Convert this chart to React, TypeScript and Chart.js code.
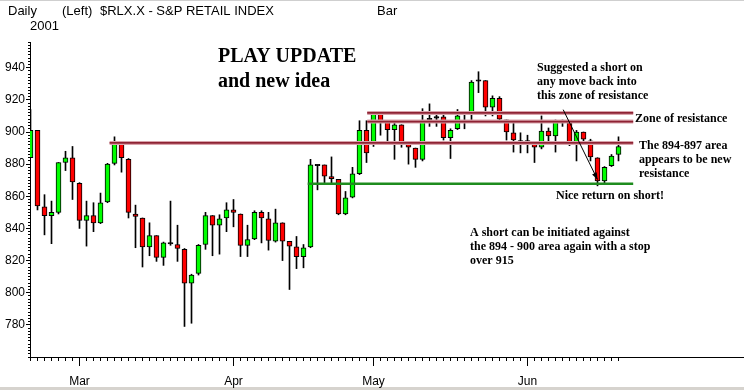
import React, { useEffect, useRef } from "react";
import { Chart, registerables } from "chart.js";

Chart.register(...registerables);

// ---- data: daily OHLC of $RLX.X, 20 Feb 2001 .. 20 Jun 2001 ----
const opens = [
  884, 901, 853.5, 848, 850, 881, 884, 868, 845, 848,
  843.5, 856.5, 880.5, 893, 883, 849, 846.5, 828.5, 835.5, 822,
  831, 830, 827, 806, 812, 830, 848, 842, 846.5, 851.5,
  849, 829.5, 833.5, 850, 846, 832, 843.5, 832, 828.5, 822.5,
  828.5, 879.5, 879.5, 872.3, 870.5, 849, 859.5, 874, 901, 893,
  911, 906, 901.5, 904.5, 893.5, 890, 883, 908.2, 909.2, 909.5,
  896.5, 902, 912, 912.5, 932.2, 932, 915.5, 921, 907.5, 899.5,
  894.2, 894.2, 893.5, 890.5, 900.5, 897.5, 906.3, 905.7, 892.5, 900,
  894.5, 884, 869.5, 879, 886,
];
const highs = [
  914, 901, 861, 857, 881, 888, 891, 868.5, 857, 856,
  862, 880.5, 897, 893.5, 883.5, 854.5, 846.5, 843.5, 835.5, 831.5,
  857, 842, 827.5, 811.5, 830, 850, 848, 848.5, 856, 858,
  849, 842, 851, 851, 850, 852, 843.5, 832, 835, 830,
  883, 879.6, 879.5, 884.5, 870.5, 863, 878, 907, 907, 912,
  912, 906, 906.5, 904.5, 893.5, 890, 914.5, 917.5, 912.5, 911,
  902, 914, 912, 932, 937.5, 932, 922.5, 922, 907.5, 906,
  899.5, 898, 894, 910, 902.5, 907.5, 907.5, 905.7, 901, 900,
  895.5, 884, 878.5, 886, 897,
];
const lows = [
  884, 851.5, 836, 830.5, 849, 876, 858, 840, 829, 838,
  843, 856, 879.5, 875, 846.5, 828, 816, 823, 819.5, 817,
  829.5, 819.5, 779, 781, 811, 827, 823, 824, 838, 841,
  822.5, 822.5, 833, 831, 826.5, 831.5, 820, 802, 815, 815.5,
  828, 864, 868.5, 868, 848.5, 848.5, 859, 873.5, 881, 891,
  898, 893, 883, 890.5, 880, 878, 882, 903.5, 903.5, 895,
  883.5, 901.5, 902, 907, 924.5, 910, 910, 907, 895, 887.5,
  887, 887, 881, 889.5, 893, 887.5, 903.5, 891.5, 882, 894,
  882, 866.5, 868.5, 878.5, 882,
];
const closes = [
  901, 854, 848, 850, 881, 884, 869, 845, 848, 843.5,
  856, 880, 893, 884, 850, 847.5, 828.5, 835.5, 822, 831,
  830.3, 827.5, 806, 811, 829.5, 848, 842, 846, 851.5, 850,
  829.5, 833, 850, 846.5, 832.5, 843.5, 832, 829, 822.5, 828,
  879.5, 879, 872.5, 871, 849, 859, 874, 901, 887, 911,
  906.5, 901.5, 904.5, 893, 890.5, 883, 906.5, 907.6, 908.6, 896.5,
  901, 910, 911.2, 931, 931.6, 915.5, 921, 908, 900, 895,
  893.8, 893.8, 890.5, 900.5, 897.5, 906.5, 905.7, 892.5, 900, 895.5,
  884.5, 869.5, 878, 885, 891,
];

// month starts (trading-day index) and their labels
const monthTickIndex = [7, 29, 49, 71];
const monthLabels = ["Mar", "Apr", "May", "Jun"];

// price axis
const priceMin = 760;
const priceMax = 956;
const priceLabelValues = [780, 800, 820, 840, 860, 880, 900, 920, 940];
const priceMinorStep = 2;

// horizontal levels drawn on the chart (price, first and last trading-day index)
const levelValues = [893.2, 911.9, 906.5, 867.8];
const levelStartIndex = [11.3, 48.1, 48.1, 39.6];
const levelEndIndex = [86.1, 86.1, 86.1, 86.1];
const levelIsSupport = [false, false, false, true];

// arrow "suggested a short" -> "nice return"
const arrowFromIndex = 76.1;
const arrowFromPrice = 913.9;
const arrowToIndex = 81.0;
const arrowToPrice = 870.4;

// ---- styles ----
const GREEN = "#00ff00";
const RED = "#ff0000";
const SANS = '"Liberation Sans", Arial, sans-serif';
const SERIF = '"Liberation Serif", "Times New Roman", serif';

const texts: { t: string; x: number; y: number; f: string }[] = [
  { t: "Daily", x: 8, y: 15, f: `13px ${SANS}` },
  { t: "(Left)", x: 62, y: 15, f: `13px ${SANS}` },
  { t: "$RLX.X - S&P RETAIL INDEX", x: 100, y: 15, f: `13px ${SANS}` },
  { t: "2001", x: 30, y: 30, f: `13px ${SANS}` },
  { t: "Bar", x: 377, y: 15, f: `13px ${SANS}` },
  { t: "PLAY UPDATE", x: 218, y: 62, f: `bold 20px ${SERIF}` },
  { t: "and new idea", x: 218, y: 87, f: `bold 20px ${SERIF}` },
  { t: "Suggested a short on", x: 537, y: 71, f: `bold 12px ${SERIF}` },
  { t: "any move back into", x: 537, y: 85, f: `bold 12px ${SERIF}` },
  { t: "this zone of resistance", x: 537, y: 99, f: `bold 12px ${SERIF}` },
  { t: "Zone of resistance", x: 635, y: 122, f: `bold 12px ${SERIF}` },
  { t: "The 894-897 area", x: 639, y: 148.5, f: `bold 12px ${SERIF}` },
  { t: "appears to be new", x: 639, y: 162.5, f: `bold 12px ${SERIF}` },
  { t: "resistance", x: 639, y: 176.5, f: `bold 12px ${SERIF}` },
  { t: "Nice return on short!", x: 556, y: 198.5, f: `bold 12px ${SERIF}` },
  { t: "A short can be initiated against", x: 470, y: 235.5, f: `bold 12px ${SERIF}` },
  { t: "the 894 - 900 area again with a stop", x: 470, y: 249.5, f: `bold 12px ${SERIF}` },
  { t: "over 915", x: 470, y: 263.5, f: `bold 12px ${SERIF}` },
];

const PX_PER_DAY = 7;
const AXIS_LEFT = 30;
const X_MIN = -0.5 / PX_PER_DAY;
const X_MAX = X_MIN + (744 - AXIS_LEFT) / PX_PER_DAY;

export default function App() {
  const ref = useRef<HTMLCanvasElement>(null);

  useEffect(() => {
    const canvas = ref.current;
    if (!canvas) return;
    const idx = opens.map((_, i) => i);
    const bodyColors = idx.map((i) =>
      Math.abs(closes[i] - opens[i]) < 1 ? "#000000" : closes[i] >= opens[i] ? GREEN : RED
    );

    const levelSets: any[] = [];
    levelValues.forEach((v, k) => {
      const pts = [
        { x: levelStartIndex[k], y: v },
        { x: levelEndIndex[k], y: v },
      ];
      if (levelIsSupport[k]) {
        levelSets.push({
          type: "line",
          data: pts,
          borderColor: "#1e8c1e",
          borderWidth: 2.5,
          pointRadius: 0,
          order: 1,
        });
      } else {
        levelSets.push({
          type: "line",
          data: pts,
          borderColor: "#d9a3ab",
          borderWidth: 4,
          pointRadius: 0,
          order: 1.5,
        });
        levelSets.push({
          type: "line",
          data: pts,
          borderColor: "#8e2233",
          borderWidth: 1.8,
          pointRadius: 0,
          order: 1,
        });
      }
    });

    const bgPlugin = {
      id: "bg",
      beforeDraw(c: any) {
        const ctx = c.ctx;
        ctx.save();
        ctx.fillStyle = "#ffffff";
        ctx.fillRect(0, 0, c.width, c.height);
        ctx.fillStyle = "#cfcfcf";
        ctx.fillRect(0, 0, c.width, 1);
        ctx.fillStyle = "#d6d3ce";
        ctx.fillRect(0, 387, c.width, 3);
        ctx.restore();
      },
    };

    const notesPlugin = {
      id: "notes",
      afterDraw(c: any) {
        const ctx = c.ctx;
        ctx.save();
        const meta = c.getDatasetMeta(0);
        const p0 = meta.data[0];
        const p1 = meta.data[1];
        if (p0 && p1) {
          const ang = Math.atan2(p1.y - p0.y, p1.x - p0.x);
          const L = 7;
          const W = 2.6;
          ctx.fillStyle = "#000";
          ctx.beginPath();
          ctx.moveTo(p1.x, p1.y);
          ctx.lineTo(
            p1.x - L * Math.cos(ang) + W * Math.sin(ang),
            p1.y - L * Math.sin(ang) - W * Math.cos(ang)
          );
          ctx.lineTo(
            p1.x - L * Math.cos(ang) - W * Math.sin(ang),
            p1.y - L * Math.sin(ang) + W * Math.cos(ang)
          );
          ctx.closePath();
          ctx.fill();
        }
        ctx.fillStyle = "#000";
        ctx.textBaseline = "alphabetic";
        ctx.textAlign = "left";
        for (const t of texts) {
          ctx.font = t.f;
          ctx.fillText(t.t, t.x, t.y);
        }
        ctx.restore();
      },
    };

    const chart = new Chart(canvas, {
      type: "bar",
      data: {
        datasets: [
          {
            type: "line",
            data: [
              { x: arrowFromIndex, y: arrowFromPrice },
              { x: arrowToIndex, y: arrowToPrice },
            ],
            borderColor: "#000",
            borderWidth: 1,
            pointRadius: 0,
            order: 0,
          } as any,
          ...levelSets,
          {
            type: "bar",
            data: idx.map((i) => ({
              x: i,
              y: [Math.min(opens[i], closes[i]), Math.max(opens[i], closes[i])],
            })),
            backgroundColor: bodyColors,
            borderColor: "#000",
            borderWidth: 1,
            borderSkipped: false,
            barThickness: 5,
            minBarLength: 1.5,
            grouped: false,
            order: 2,
          } as any,
          {
            type: "bar",
            data: idx.map((i) => ({ x: i, y: [lows[i], highs[i]] })),
            backgroundColor: "#000",
            borderWidth: 0,
            barThickness: 1,
            grouped: false,
            order: 3,
          } as any,
        ],
      },
      options: {
        animation: false,
        responsive: false,
        devicePixelRatio: 1,
        events: [],
        layout: { padding: { top: 42, right: 0, bottom: 0, left: 0 } },
        plugins: { legend: { display: false }, tooltip: { enabled: false } },
        scales: {
          x: {
            type: "linear",
            position: "bottom",
            min: X_MIN,
            max: X_MAX,
            offset: false,
            afterBuildTicks: (s: any) => {
              s.ticks = idx.map((i) => ({ value: i }));
            },
            afterFit: (s: any) => {
              s.height = 0;
            },
            ticks: { display: false, autoSkip: false },
            grid: {
              display: true,
              offset: false,
              drawOnChartArea: false,
              drawTicks: true,
              tickLength: 4,
              tickColor: "#000",
              tickWidth: 1,
            },
            border: { display: true, color: "#000", width: 1 },
          },
          x2: {
            type: "linear",
            position: "bottom",
            min: X_MIN,
            max: X_MAX,
            offset: false,
            afterBuildTicks: (s: any) => {
              s.ticks = monthTickIndex.map((v) => ({ value: v }));
            },
            afterFit: (s: any) => {
              s.height = 33;
            },
            ticks: {
              autoSkip: false,
              maxRotation: 0,
              padding: 8,
              color: "#000",
              font: { family: SANS, size: 12 },
              callback: (v: any) => {
                const k = monthTickIndex.indexOf(Number(v));
                return k >= 0 ? monthLabels[k] : "";
              },
            },
            grid: {
              display: true,
              offset: false,
              drawOnChartArea: false,
              drawTicks: true,
              tickLength: 9,
              tickColor: "#000",
              tickWidth: 1,
            },
            border: { display: false },
          },
          y: {
            type: "linear",
            position: "left",
            min: priceMin,
            max: priceMax,
            afterBuildTicks: (s: any) => {
              const t: any[] = [];
              for (let v = priceMin; v <= priceMax; v += priceMinorStep) t.push({ value: v });
              s.ticks = t;
            },
            afterFit: (s: any) => {
              s.width = 0;
            },
            ticks: { display: false, autoSkip: false },
            grid: {
              display: true,
              drawOnChartArea: false,
              drawTicks: true,
              tickLength: 2,
              tickColor: "#000",
              tickWidth: 1,
            },
            border: { display: true, color: "#000", width: 1 },
          },
          y2: {
            type: "linear",
            position: "left",
            min: priceMin,
            max: priceMax,
            afterBuildTicks: (s: any) => {
              s.ticks = priceLabelValues.map((v) => ({ value: v }));
            },
            afterFit: (s: any) => {
              s.width = AXIS_LEFT;
            },
            ticks: {
              autoSkip: false,
              padding: 1,
              color: "#000",
              font: { family: SANS, size: 12 },
            },
            grid: {
              display: true,
              drawOnChartArea: false,
              drawTicks: true,
              tickLength: 4,
              tickColor: "#000",
              tickWidth: 1,
            },
            border: { display: false },
          },
        },
      } as any,
      plugins: [bgPlugin, notesPlugin],
    });
    return () => chart.destroy();
  }, []);

  return (
    <div
      style={{
        position: "fixed",
        left: 0,
        top: 0,
        width: 744,
        height: 390,
        background: "#fff",
      }}
    >
      <canvas ref={ref} width={744} height={390} style={{ display: "block" }} />
    </div>
  );
}
